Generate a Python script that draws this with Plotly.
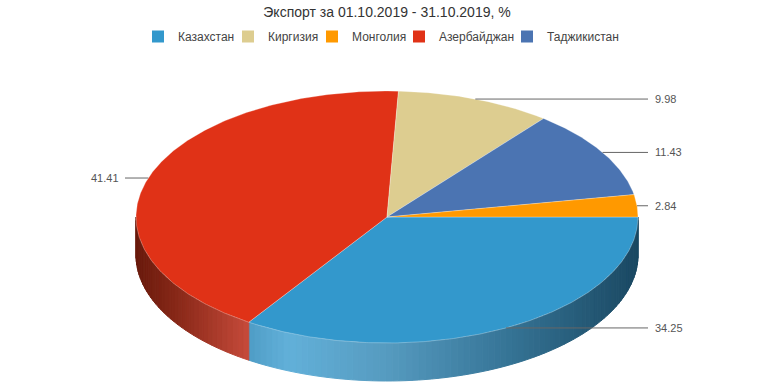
import numpy as np
import plotly.graph_objects as go

# ---- data (drawing order, clockwise from 3 o'clock) ----
countries = ["Казахстан", "Азербайджан", "Киргизия", "Таджикистан", "Монголия"]
values = [34.25, 41.41, 9.98, 11.43, 2.84]
value_labels = ["34.25", "41.41", "9.98", "11.43", "2.84"]
legend_order = ["Казахстан", "Киргизия", "Монголия", "Азербайджан", "Таджикистан"]
title_text = "Экспорт за 01.10.2019 - 31.10.2019, %"

# ---- styles ----
colors = {
    "Казахстан": "#3398cc",
    "Киргизия": "#ddcd90",
    "Монголия": "#ff9900",
    "Азербайджан": "#e03217",
    "Таджикистан": "#4b74b2",
}
side_stops = {
    "Казахстан": [(0.0, (79, 157, 198)), (0.1, (98, 176, 217)), (0.35, (86, 155, 192)),
                  (0.65, (55, 118, 152)), (1.0, (26, 72, 98))],
    "Азербайджан": [(0.0, (105, 26, 12)), (0.4, (140, 42, 26)), (1.0, (198, 74, 58))],
}
default_side = (120, 120, 120)
# legend swatch centre positions (px) of each entry
legend_swatch_x = [180, 262, 338, 417, 517]

W, H = 774, 387
cx, cy, rx, ry, depth = 387, 217, 251, 126, 38


def lerp_color(stops, f):
    f = min(max(f, 0), 1)
    for (f0, c0), (f1, c1) in zip(stops[:-1], stops[1:]):
        if f0 <= f <= f1:
            t = 0 if f1 == f0 else (f - f0) / (f1 - f0)
            c = [round(a + (b - a) * t) for a, b in zip(c0, c1)]
            return "rgb(%d,%d,%d)" % tuple(c)
    return "rgb(%d,%d,%d)" % stops[-1][1]


def ex(t):
    return cx + rx * np.cos(np.radians(t))


def ey(t):
    return cy + ry * np.sin(np.radians(t))


total = sum(values)
bounds = np.concatenate([[0], np.cumsum(values)]) / total * 360.0

fig = go.Figure()

# side of the 3D pie (front half only: 0..180 deg)
for i, name in enumerate(countries):
    a0, a1 = max(bounds[i], 0), min(bounds[i + 1], 180)
    if a1 <= a0:
        continue
    stops = side_stops.get(name, [(0, default_side), (1, default_side)])
    xa, xb = ex(a1), ex(a0)
    n = max(int((a1 - a0) / 1.5), 2)
    ts = np.linspace(a0, a1, n + 1)
    for t0, t1 in zip(ts[:-1], ts[1:]):
        tt = np.linspace(t0, t1, 4)
        xs = list(ex(tt)) + list(ex(tt[::-1]))
        ys = list(ey(tt)) + list(ey(tt[::-1]) + depth)
        xm = ex((t0 + t1) / 2)
        col = lerp_color(stops, (xm - xa) / (xb - xa))
        fig.add_trace(go.Scatter(x=xs + [xs[0]], y=ys + [ys[0]], mode="lines",
                                 fill="toself", fillcolor=col,
                                 line=dict(color=col, width=1),
                                 hoverinfo="skip", showlegend=False))

# top faces
for i, name in enumerate(countries):
    tt = np.linspace(bounds[i], bounds[i + 1], max(int(bounds[i + 1] - bounds[i]), 2) * 2)
    xs = [cx] + list(ex(tt)) + [cx]
    ys = [cy] + list(ey(tt)) + [cy]
    fig.add_trace(go.Scatter(x=xs, y=ys, mode="lines", fill="toself",
                             fillcolor=colors[name],
                             line=dict(color="rgba(255,255,255,0.45)", width=0.6),
                             hoverinfo="skip", showlegend=False))

# connectors and labels
for i, name in enumerate(countries):
    tm = (bounds[i] + bounds[i + 1]) / 2
    xm, ym = ex(tm), ey(tm)
    right = np.cos(np.radians(tm)) >= 0
    xe = 648 if right else 125
    fig.add_trace(go.Scatter(x=[xm, xe], y=[ym, ym], mode="lines",
                             line=dict(color="#666666", width=1),
                             hoverinfo="skip", showlegend=False))
    fig.add_annotation(x=xe + (5 if right else -4), y=ym, text=value_labels[i],
                       xanchor="left" if right else "right", yanchor="middle",
                       showarrow=False, font=dict(size=11, color="#555555"))

# legend entries: one small legend per entry so spacing can follow the reference
legend_layouts = {}
for k, name in enumerate(legend_order):
    key = "legend" if k == 0 else "legend%d" % (k + 1)
    fig.add_trace(go.Scatter(x=[None], y=[None], mode="markers", name=name,
                             legend=key,
                             marker=dict(symbol="square", size=12, color=colors[name]),
                             showlegend=True))
    lx = legend_swatch_x[k] - 26 + (k - 2) * 8
    legend_layouts[key] = dict(orientation="h", x=lx / W, xanchor="left",
                               y=1 - 22 / H, yanchor="top", bgcolor="rgba(0,0,0,0)",
                               font=dict(size=12, color="#444444"),
                               itemclick=False, itemdoubleclick=False)

fig.update_layout(
    width=W, height=H,
    margin=dict(l=0, r=0, t=0, b=0, autoexpand=False),
    paper_bgcolor="white", plot_bgcolor="white",
    font=dict(family="Liberation Sans, Arial, sans-serif", color="#333333"),
    title=dict(text=title_text, x=0.5, xanchor="center", y=1 - 12 / H, yanchor="middle",
               font=dict(size=14, color="#333333")),
    xaxis=dict(range=[0, W], visible=False, fixedrange=True),
    yaxis=dict(range=[H, 0], visible=False, fixedrange=True),
    showlegend=True,
    **legend_layouts,
)

fig.write_html("out.html", config={"displayModeBar": False},
               post_script="document.body.style.margin='0px';")
